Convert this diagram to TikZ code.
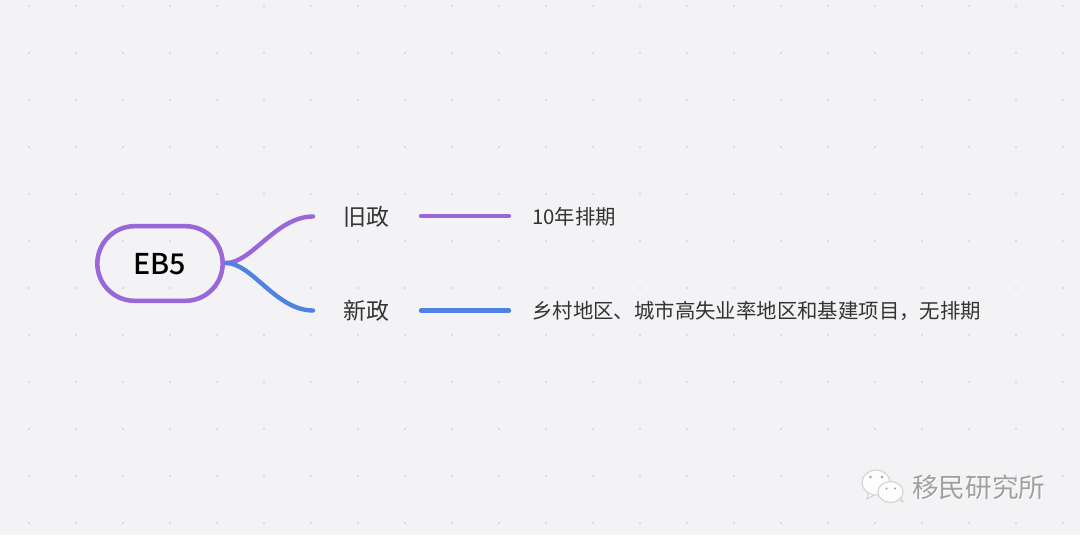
\documentclass[tikz,border=0pt]{standalone}
\usepackage{fontspec}
\setmainfont{Noto Sans CJK SC}
\newfontfamily\cjkmed{Noto Sans CJK SC Medium}
\definecolor{bgc}{HTML}{F3F3F6}
\definecolor{dotc}{HTML}{D6D6DA}
\definecolor{purp}{HTML}{9B66D8}
\definecolor{blu}{HTML}{4F82E2}
\definecolor{txt}{HTML}{333333}
\definecolor{wm}{HTML}{A0A0A0}
\tikzset{
  x=0.75pt,y=-0.75pt,
  branchlabel/.style={inner sep=0pt,text=txt,font=\fontsize{17.2}{20}\selectfont,anchor=center},
  leaflabel/.style={inner sep=0pt,text=txt,font=\fontsize{15.3}{18}\selectfont,anchor=west},
  rootbox/.style={draw=purp,line width=3.4pt,rounded corners=28pt,minimum width=94pt,minimum height=56pt,inner sep=0pt,font=\cjkmed\fontsize{21.5}{26}\selectfont,text=black,text height=16pt,text depth=0pt},
  link/.style={line width=3.3pt,line cap=round},
  bubble/.style={draw=white!65!gray,fill=white!85!bgc,line width=0.8pt},
}
\begin{document}
\begin{tikzpicture}
\useasboundingbox (0,0) rectangle (1080,535);
\fill[bgc] (0,0) rectangle (1080,535);
\foreach \i in {0,...,22}{\foreach \j in {0,...,11}{
  \fill[dotc] ({29+47*\i},{6+47*\j}) circle (0.85pt);
}}
\node[rootbox] (root) at (160,263.5) {EB5};
\node[branchlabel] (old) at (366,217) {旧政};
\node[branchlabel] (new) at (366,310.5) {新政};
\coordinate (oldin) at (313,216.5);
\coordinate (newin) at (313,310.5);
\coordinate (rootout) at (226,263);
\coordinate (oldl) at (421,216);
\coordinate (oldr) at (509,216);
\coordinate (newl) at (421,310.5);
\coordinate (newr) at (509,310.5);
\draw[link,purp] (rootout) .. controls (252,263) and (276,216.5) .. (oldin);
\draw[link,blu] (rootout) .. controls (252,263) and (276,310.5) .. (newin);
\draw[link,purp] (oldl) -- (oldr);
\draw[link,blu] (newl) -- (newr);
\node[leaflabel] (oldleaf) at (532,217) {10年排期};
\node[leaflabel] (newleaf) at (532,311) {乡村地区、城市高失业率地区和基建项目，无排期};
% watermark
\path[bubble] (869,491) -- (867,499) -- (876,494) -- cycle;
\path[bubble] (876,482.5) ellipse (14 and 12.5);
\path[bubble] (894,497) -- (903,502) -- (900,494) -- cycle;
\path[bubble] (890.5,492) ellipse (12.5 and 10.5);
\fill[wm] (870.5,477) circle (1.3) (882,477) circle (1.3) (886.5,488.5) circle (1.1) (895,488.5) circle (1.1);
\node[inner sep=0pt,text=white,font=\fontsize{20}{22}\selectfont,anchor=west] (wmshadow) at (912.8,488.3) {移民研究所};
\node[inner sep=0pt,text=wm,font=\fontsize{20}{22}\selectfont,anchor=west] (wmtext) at (912,487.5) {移民研究所};
\end{tikzpicture}
\end{document}
